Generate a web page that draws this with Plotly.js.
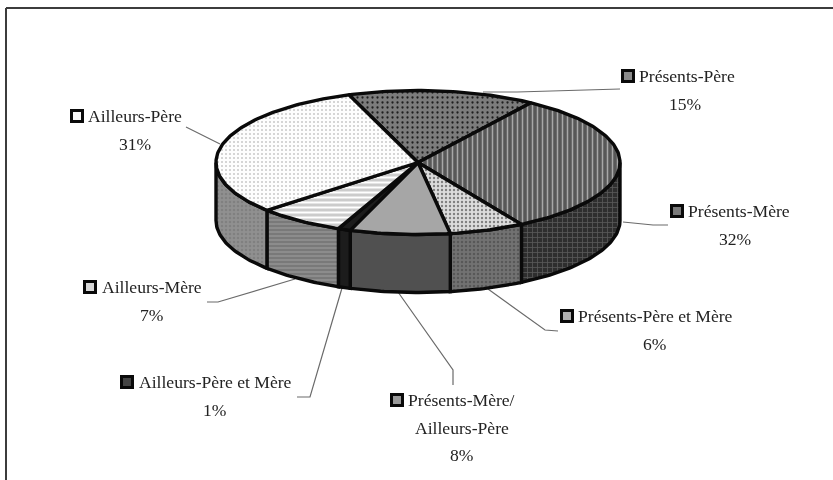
<!DOCTYPE html>
<html><head><meta charset="utf-8">
<script src="https://cdn.plot.ly/plotly-3.0.1.min.js"></script>
<style>html,body{margin:0;padding:0;background:#fff}#c{width:833px;height:480px;filter:blur(0.4px)}</style>
</head><body><div id="c"></div>
<script>
// Data
var categories = ['Présents-Père','Présents-Mère','Présents-Père et Mère','Présents-Mère/|Ailleurs-Père','Ailleurs-Père et Mère','Ailleurs-Mère','Ailleurs-Père'];
var values = [15,32,6,8,1,7,31];

// Styles per slice
var topBg  = ['#7c7c7c','#585858','#dcdcdc','#a6a6a6','#1c1c1c','#cccccc','#fdfdfd'];
var topFg  = ['#1e1e1e','#a8a8a8','#808080','#a6a6a6','#1c1c1c','#ffffff','#c8c8c8'];
var topPat = ['.','|','.','','','-','.'];
var topSize= [5,5,4,4,4,5,4];
var topSol = [0.16,0.3,0.28,0.3,0.3,0.4,0.2];
var sideBg = ['#555555','#2e2e2e','#727272','#505050','#1c1c1c','#8c8c8c','#909090'];
var sideFg = ['#333333','#585858','#585858','#505050','#1c1c1c','#6c6c6c','#808080'];
var sidePat= ['','+','.','','','-','.'];
var sideSize=[4,5,4,4,4,4,4];
var keyColors = ['#8a8a8a','#7a7a7a','#b0b0b0','#9a9a9a','#444444','#d8d8d8','#f8f8f8'];

// Layout geometry in pixels
var cx=418, cy=162.5, rx=202, ry=72, depth=58, startDeg=-20;
var keyX = [628,677,567,397,127,90,77];
var keyY = [76,211,316,400,382,287,116];
var textX= [637,686,576,406,137,100,86];
var lineGap=27.5;
var pctX = [685,735,655,462,215,152,135];
var leaders = [
 [[620,89],[517,92],[483,92]],
 [[623,222],[653,225],[668,225]],
 [[488,289],[545,330],[558,331]],
 [[398,292],[453,370],[453,385]],
 [[342,288],[310,397],[297,397]],
 [[295,279],[218,302],[207,302]],
 [[186,127],[220,144]]
];

function pt(deg,dy){var t=deg*Math.PI/180;return [cx+rx*Math.sin(t), cy-ry*Math.cos(t)+(dy||0)];}
var traces=[], ann=[];
function arc(a,b,dy){var out=[],n=Math.max(2,Math.ceil(Math.abs(b-a)));for(var i=0;i<=n;i++){out.push(pt(a+(b-a)*i/n,dy));}return out;}
function poly(pts,bg,fg,pat,size,sol){
  var tr={type:'scatter',mode:'lines',x:pts.map(function(p){return p[0]}),y:pts.map(function(p){return p[1]}),
    fill:'toself',fillcolor:bg,line:{color:'#0a0a0a',width:3.4},hoverinfo:'skip',showlegend:false};
  if(pat){tr.fillpattern={shape:pat,bgcolor:bg,fgcolor:fg,size:size,solidity:sol,fillmode:'replace'};}
  traces.push(tr);
}
// leaders
leaders.forEach(function(l){traces.push({type:'scatter',mode:'lines',x:l.map(function(p){return p[0]}),y:l.map(function(p){return p[1]}),
  line:{color:'#6a6a6a',width:1.2},hoverinfo:'skip',showlegend:false});});

var total=values.reduce(function(a,b){return a+b},0), a=startDeg, spans=[];
values.forEach(function(v){var b=a+v/total*360;spans.push([a,b]);a=b;});
// side walls: visible between 90 and 270 degrees
spans.forEach(function(s,i){
  var lo=Math.max(s[0],90), hi=Math.min(s[1],270);
  if(hi>lo){var pts=arc(lo,hi,0).concat(arc(hi,lo,depth));pts.push(pts[0]);poly(pts,sideBg[i],sideFg[i],sidePat[i],sideSize[i],0.3);}
});
// top faces
spans.forEach(function(s,i){
  var pts=[[cx,cy]].concat(arc(s[0],s[1],0));pts.push([cx,cy]);poly(pts,topBg[i],topFg[i],topPat[i],topSize[i],topSol[i]);
});
// keys
traces.push({type:'scatter',mode:'markers',x:keyX,y:keyY,marker:{symbol:'square',size:11,color:keyColors,line:{color:'#0a0a0a',width:3}},hoverinfo:'skip',showlegend:false});
// labels
var font={family:'"Liberation Serif", serif',size:17.6,color:'#222'};
categories.forEach(function(c,i){
  var lines=c.split('|');
  ann.push({x:textX[i],y:keyY[i],xref:'x',yref:'y',text:lines[0],showarrow:false,xanchor:'left',yanchor:'middle',font:font});
  var y=keyY[i];
  for(var k=1;k<lines.length;k++){y+=lineGap;ann.push({x:pctX[i],y:y,xref:'x',yref:'y',text:lines[k],showarrow:false,xanchor:'center',yanchor:'middle',font:font});}
  y+=lineGap;
  ann.push({x:pctX[i],y:y,xref:'x',yref:'y',text:values[i]+'%',showarrow:false,xanchor:'center',yanchor:'middle',font:font});
});
var layout={width:833,height:480,margin:{l:0,r:0,t:0,b:0},paper_bgcolor:'#fff',plot_bgcolor:'#fff',showlegend:false,
  xaxis:{range:[0,833],visible:false,fixedrange:true},yaxis:{range:[480,0],visible:false,fixedrange:true},
  annotations:ann,
  shapes:[{type:'line',xref:'x',yref:'y',x0:6,x1:833,y0:8,y1:8,line:{color:'#3c3c3c',width:2}},
          {type:'line',xref:'x',yref:'y',x0:6,x1:6,y0:8,y1:480,line:{color:'#3c3c3c',width:2}}]};
Plotly.newPlot('c',traces,layout,{displayModeBar:false,staticPlot:true});
</script></body></html>
